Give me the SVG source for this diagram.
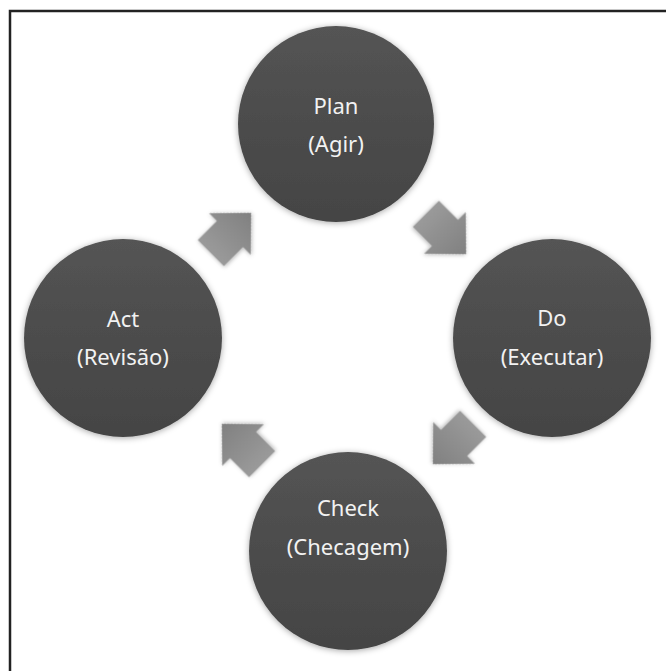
<svg xmlns="http://www.w3.org/2000/svg" width="666" height="671" viewBox="0 0 666 671">
<style>
.node circle{fill:url(#cg);filter:url(#sh)}
.node text{font-family:"Noto Sans","Open Sans",sans-serif;font-size:22px;fill:#f2f2f2;text-anchor:middle}
.arr{fill:url(#ag);filter:url(#ash)}
</style>
<defs>
<linearGradient id="cg" x1="0" y1="0" x2="0" y2="1">
<stop offset="0" stop-color="#545454"/>
<stop offset="1" stop-color="#444"/>
</linearGradient>
<linearGradient id="ag" x1="0" y1="0" x2="1" y2="0">
<stop offset="0" stop-color="#9a9a9a"/>
<stop offset="1" stop-color="#808080"/>
</linearGradient>
<filter id="sh" x="-20%" y="-20%" width="140%" height="140%">
<feDropShadow dx="0" dy="1" stdDeviation="3" flood-color="#000" flood-opacity="0.35"/>
</filter>
<filter id="ash" x="-30%" y="-30%" width="160%" height="160%">
<feDropShadow dx="0" dy="1" stdDeviation="2" flood-color="#000" flood-opacity="0.3"/>
</filter>
<path id="ar" d="M-28.5,-18.5 L-1.5,-18.5 L-1.5,-29.5 L28.5,0 L-1.5,29.5 L-1.5,18.5 L-28.5,18.5 Z"/>
</defs>
<rect width="666" height="671" fill="#fff"/>
<path d="M10,671 V11 H666" fill="none" stroke="#222" stroke-width="2.5"/>
<g id="connectors">
<use href="#ar" class="arr" transform="translate(231,233) rotate(-45)"/>
<use href="#ar" class="arr" transform="translate(446,234) rotate(45)"/>
<use href="#ar" class="arr" transform="translate(453,444) rotate(135)"/>
<use href="#ar" class="arr" transform="translate(242,444) rotate(-135)"/>
</g>
<g id="plan" class="node">
<circle cx="336" cy="124" r="98"/>
<text x="336" y="114">Plan</text>
<text x="336" y="152">(Agir)</text>
</g>
<g id="do" class="node">
<circle cx="552" cy="338" r="99"/>
<text x="552" y="326">Do</text>
<text x="552" y="365">(Executar)</text>
</g>
<g id="check" class="node">
<circle cx="348" cy="551" r="99"/>
<text x="348" y="516">Check</text>
<text x="348" y="555">(Checagem)</text>
</g>
<g id="act" class="node">
<circle cx="123" cy="338" r="99"/>
<text x="123" y="327">Act</text>
<text x="123" y="365">(Revisão)</text>
</g>
</svg>
